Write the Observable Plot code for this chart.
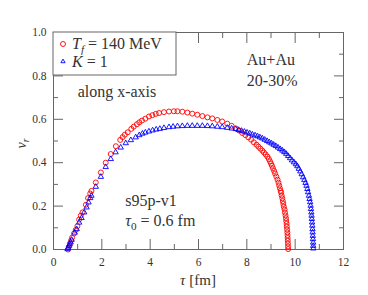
<!DOCTYPE html>
<html><head><meta charset="utf-8">
<script src="https://cdn.jsdelivr.net/npm/d3@7"></script>
<script src="https://cdn.jsdelivr.net/npm/@observablehq/plot@0.6"></script>
<style>
body{margin:0;background:#fff;}
#chart{width:368px;height:295px;}
</style>
</head><body><div id="chart"></div>
<script>
// T_f = 140 MeV (red circles): [tau (fm), v_r]
const redPoints = [[0.60,0.000],[0.63,0.012],[0.68,0.028],[0.73,0.042],[0.77,0.055],[0.85,0.074],[0.92,0.090],[0.99,0.108],[1.06,0.138],[1.13,0.156],[1.20,0.171],[1.34,0.206],[1.43,0.237],[1.52,0.258],[1.57,0.270],[1.75,0.309],[1.96,0.355],[2.16,0.400],[2.37,0.440],[2.58,0.476],[2.76,0.505],[2.86,0.518],[2.95,0.529],[3.07,0.540],[3.22,0.556],[3.32,0.566],[3.45,0.577],[3.55,0.586],[3.66,0.594],[3.80,0.603],[3.95,0.613],[4.09,0.619],[4.23,0.625],[4.37,0.629],[4.57,0.633],[4.78,0.636],[4.98,0.637],[5.13,0.637],[5.33,0.635],[5.54,0.631],[5.74,0.626],[5.95,0.621],[6.16,0.615],[6.37,0.609],[6.57,0.604],[6.78,0.597],[6.98,0.590],[7.19,0.580],[7.37,0.570],[7.54,0.558],[7.68,0.548],[7.81,0.537],[7.94,0.527],[8.06,0.517],[8.18,0.506],[8.29,0.494],[8.40,0.483],[8.48,0.474],[8.56,0.465],[8.64,0.456],[8.71,0.447],[8.78,0.438],[8.85,0.428],[8.91,0.417],[8.96,0.406],[9.00,0.396],[9.04,0.386],[9.08,0.374],[9.13,0.362],[9.17,0.350],[9.22,0.336],[9.27,0.322],[9.31,0.308],[9.34,0.295],[9.37,0.282],[9.40,0.270],[9.42,0.262],[9.44,0.249],[9.47,0.236],[9.49,0.223],[9.51,0.210],[9.53,0.197],[9.56,0.184],[9.58,0.170],[9.60,0.157],[9.62,0.144],[9.63,0.131],[9.645,0.118],[9.655,0.105],[9.665,0.092],[9.677,0.079],[9.684,0.066],[9.689,0.053],[9.694,0.040],[9.70,0.027],[9.705,0.014],[9.71,0.002]];
// K = 1 (blue triangles): [tau (fm), v_r]
const bluePoints = [[0.58,0.002],[0.61,0.008],[0.64,0.017],[0.67,0.024],[0.71,0.033],[0.75,0.045],[0.88,0.078],[0.96,0.094],[1.06,0.124],[1.16,0.145],[1.27,0.171],[1.37,0.194],[1.45,0.217],[1.52,0.237],[1.57,0.248],[1.75,0.289],[1.96,0.335],[2.16,0.380],[2.37,0.417],[2.57,0.448],[2.78,0.470],[2.99,0.490],[3.20,0.504],[3.40,0.517],[3.55,0.527],[3.68,0.534],[3.80,0.539],[3.95,0.544],[4.10,0.549],[4.25,0.553],[4.40,0.556],[4.57,0.560],[4.78,0.564],[4.95,0.566],[5.13,0.568],[5.33,0.569],[5.54,0.570],[5.74,0.570],[5.95,0.570],[6.16,0.570],[6.37,0.569],[6.57,0.568],[6.78,0.566],[6.98,0.564],[7.19,0.561],[7.37,0.558],[7.54,0.555],[7.66,0.551],[7.78,0.547],[7.90,0.543],[8.01,0.539],[8.12,0.535],[8.23,0.530],[8.34,0.526],[8.44,0.522],[8.54,0.517],[8.64,0.512],[8.74,0.506],[8.84,0.500],[8.93,0.494],[9.02,0.489],[9.11,0.483],[9.20,0.477],[9.29,0.470],[9.38,0.463],[9.47,0.456],[9.55,0.449],[9.63,0.441],[9.71,0.431],[9.79,0.421],[9.87,0.411],[9.95,0.402],[10.03,0.393],[10.09,0.384],[10.15,0.372],[10.21,0.360],[10.27,0.347],[10.33,0.333],[10.38,0.320],[10.43,0.307],[10.47,0.294],[10.505,0.279],[10.535,0.264],[10.57,0.248],[10.595,0.233],[10.62,0.218],[10.64,0.202],[10.655,0.187],[10.67,0.171],[10.68,0.156],[10.69,0.141],[10.70,0.125],[10.71,0.110],[10.717,0.094],[10.723,0.079],[10.73,0.063],[10.737,0.048],[10.743,0.032],[10.747,0.017],[10.75,0.005]];

const xMajor = [0, 2, 4, 6, 8, 10, 12];
const xMinor = [1, 3, 5, 7, 9, 11];
const yMajor = [0, 0.2, 0.4, 0.6, 0.8, 1.0];
const yMinor = [0.1, 0.3, 0.5, 0.7, 0.9];

const legendLabels = [
  [{t: "T", i: true}, {t: "f", i: true, sub: true}, {t: " = 140 MeV"}],
  [{t: "K", i: true}, {t: " = 1"}]
];
const xLabel = [{t: "τ", i: true}, {t: " [fm]"}];
const yLabel = [{t: "v", i: true}, {t: "r", i: true, sub: true}];
const notes = [
  {x: 1.02, y: 0.702, parts: [{t: "along x-axis"}]},
  {x: 8.02, y: 0.849, parts: [{t: "Au+Au"}]},
  {x: 8.02, y: 0.753, parts: [{t: "20-30%"}]},
  {x: 2.99, y: 0.197, parts: [{t: "s95p-v1"}]},
  {x: 2.99, y: 0.105, parts: [{t: "τ", i: true}, {t: "0", sub: true}, {t: " = 0.6 fm"}]}
];

const FONT = "Liberation Serif, Times New Roman, serif";
const AX = "#666";
const TXT = "#333";
const red = "#ff0000", blue = "#0000ff";

const plot = Plot.plot({
  width: 368, height: 295,
  marginLeft: 53, marginRight: 25, marginTop: 32, marginBottom: 46,
  style: {fontFamily: FONT, fontSize: "11.5px", color: TXT, background: "#fff"},
  x: {domain: [0, 12]},
  y: {domain: [0, 1]},
  marks: [
    Plot.axisX(xMajor, {anchor: "bottom", tickSize: 0, tickPadding: 8, label: null, fill: TXT, tickFormat: d => String(d)}),
    Plot.axisY(yMajor, {anchor: "left", tickSize: 0, tickPadding: 7, label: null, fill: TXT, tickFormat: d3.format(".1f")}),
    Plot.axisX(xMajor, {anchor: "bottom", tickSize: -10, text: null, label: null, stroke: AX}),
    Plot.axisX(xMinor, {anchor: "bottom", tickSize: -5, text: null, label: null, stroke: AX}),
    Plot.axisX(xMajor, {anchor: "top", tickSize: -10, text: null, label: null, stroke: AX}),
    Plot.axisX(xMinor, {anchor: "top", tickSize: -5, text: null, label: null, stroke: AX}),
    Plot.axisY(yMajor, {anchor: "left", tickSize: -10, text: null, label: null, stroke: AX}),
    Plot.axisY(yMinor, {anchor: "left", tickSize: -5, text: null, label: null, stroke: AX}),
    Plot.axisY(yMajor, {anchor: "right", tickSize: -10, text: null, label: null, stroke: AX}),
    Plot.axisY(yMinor, {anchor: "right", tickSize: -5, text: null, label: null, stroke: AX}),
    Plot.frame({stroke: AX, strokeWidth: 1}),
    Plot.dot(redPoints, {x: d => d[0], y: d => d[1], r: 2.5, stroke: red, strokeWidth: 0.9, fill: "none"}),
    Plot.dot(bluePoints, {x: d => d[0], y: d => d[1], symbol: "triangle", r: 2.0, stroke: blue, strokeWidth: 0.9, fill: "none"})
  ]
});
document.getElementById("chart").appendChild(plot);

const sx = plot.scale("x"), sy = plot.scale("y");
const svg = d3.select(plot);

function rich(g, x, y, parts, size, anchor = "start") {
  const t = g.append("text").attr("x", x).attr("y", y)
    .attr("font-family", FONT).attr("font-size", size).attr("fill", TXT)
    .attr("text-anchor", anchor);
  let prevSub = false;
  parts.forEach(p => {
    const s = t.append("tspan").text(p.t);
    if (p.i) s.attr("font-style", "italic");
    if (p.sub) s.attr("font-size", size * 0.7).attr("dy", size * 0.22);
    else if (prevSub) s.attr("dy", -size * 0.22);
    prevSub = !!p.sub;
  });
  return t;
}

// annotations positioned through the plot's scales
const ann = svg.append("g");
notes.forEach(n => rich(ann, sx.apply(n.x), sy.apply(n.y), n.parts, 16));

// legend box in the upper-left corner of the frame
const x0 = sx.apply(0), y0 = sy.apply(1);
const lg = svg.append("g");
lg.append("rect").attr("x", x0).attr("y", y0).attr("width", 123).attr("height", 43)
  .attr("fill", "#fff").attr("stroke", AX).attr("stroke-width", 1);
lg.append("circle").attr("cx", x0 + 10).attr("cy", y0 + 12).attr("r", 2.5)
  .attr("fill", "none").attr("stroke", red).attr("stroke-width", 0.9);
lg.append("path").attr("transform", `translate(${x0 + 10},${y0 + 29.5})`)
  .attr("d", d3.symbol(d3.symbolTriangle2, Math.PI * 2.0 * 2.0)())
  .attr("fill", "none").attr("stroke", blue).attr("stroke-width", 0.9);
rich(lg, x0 + 19, y0 + 17, legendLabels[0], 16);
rich(lg, x0 + 19, y0 + 34.5, legendLabels[1], 16);

// axis titles
rich(svg, (sx.apply(0) + sx.apply(12)) / 2, 285, xLabel, 15, "middle");
rich(svg, 0, 0, yLabel, 14, "middle")
  .attr("transform", `translate(25.5,${(sy.apply(0) + sy.apply(1)) / 2 + 3}) rotate(-90)`);
</script>
</body></html>
